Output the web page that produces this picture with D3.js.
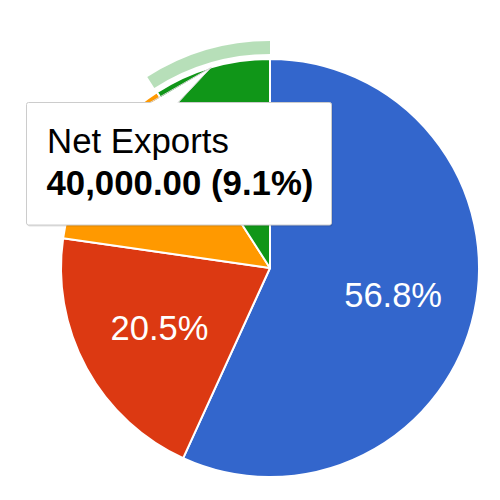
<!DOCTYPE html>
<html><head><meta charset="utf-8">
<script src="https://cdn.jsdelivr.net/npm/d3@7"></script>
<style>html,body{margin:0;padding:0;background:#fff;}svg{display:block;}</style>
</head><body>
<svg id="c" width="500" height="500"></svg>
<script>
const categories = ["Consumption", "Investment", "Government Spending", "Net Exports"];
const values = [250000, 90000, 60000, 40000];
const colors = ["#3366cc", "#dc3912", "#ff9900", "#109618"];
const hoveredIndex = 3;

const svg = d3.select("#c");
const cx = 270, cy = 268, r = 209;
const g = svg.append("g").attr("transform", `translate(${cx},${cy})`);
const total = d3.sum(values);
const pie = d3.pie().sort(null).value(d => d)(values);
const arc = d3.arc().innerRadius(0).outerRadius(r);

g.selectAll("path.slice").data(pie).join("path")
  .attr("class", "slice")
  .attr("d", arc)
  .attr("fill", (d, i) => colors[i])
  .attr("stroke", "#fff").attr("stroke-width", 2).attr("stroke-linejoin", "round");

// hover ring
const hp = pie[hoveredIndex];
g.append("path")
  .attr("d", d3.arc().innerRadius(r + 5).outerRadius(r + 18)(hp))
  .attr("fill", colors[hoveredIndex]).attr("fill-opacity", 0.3);

// percent labels (only where they fit)
const fmtPct = v => (v * 100).toFixed(1) + "%";
const labelArc = d3.arc().innerRadius(126).outerRadius(126);
g.selectAll("text.lbl").data(pie.filter(d => d.value / total > 0.15)).join("text")
  .attr("class", "lbl")
  .attr("transform", d => `translate(${labelArc.centroid(d)})`)
  .attr("text-anchor", "middle").attr("dy", "0.35em")
  .attr("font-family", "'Liberation Sans', Arial, sans-serif")
  .attr("font-size", 34.5).attr("fill", "#fff")
  .text(d => fmtPct(d.value / total));

// tooltip
const tx = 26.5, ty = 102.5, tw = 305, th = 122.5;
const tip = svg.append("g");
tip.append("rect").attr("x", tx + 1).attr("y", ty + 1.5).attr("width", tw).attr("height", th)
  .attr("rx", 2).attr("fill", "#000").attr("fill-opacity", 0.12);
tip.append("rect").attr("x", tx).attr("y", ty).attr("width", tw).attr("height", th)
  .attr("rx", 2).attr("fill", "#fff").attr("stroke", "#cccccc").attr("stroke-width", 1);

// pointer to slice outer midpoint
const apexArc = d3.arc().innerRadius(r).outerRadius(r);
const [ax, ay] = apexArc.centroid(hp);
const apex = [ax + cx, ay + cy];
const b1 = [150, ty + 0.8], b2 = [178, ty + 0.8];
tip.append("path").attr("d", `M${b1}L${apex}L${b2}Z`).attr("fill", "#fff");
tip.append("path").attr("d", `M${b1[0]},${ty}L${apex}L${b2[0]},${ty}`)
  .attr("fill", "none").attr("stroke", "#d6d6d6").attr("stroke-width", 1);

const fmtNum = d3.format(",.2f");
tip.append("text").attr("x", 47).attr("y", 153)
  .attr("font-family", "'Liberation Sans', Arial, sans-serif").attr("font-size", 34.8)
  .attr("fill", "#000").text(categories[hoveredIndex]);
tip.append("text").attr("x", 46.5).attr("y", 195)
  .attr("font-family", "'Liberation Sans', Arial, sans-serif").attr("font-size", 34.8)
  .attr("font-weight", "bold").attr("fill", "#000")
  .text(`${fmtNum(values[hoveredIndex])} (${fmtPct(values[hoveredIndex] / total)})`);
</script>
</body></html>
